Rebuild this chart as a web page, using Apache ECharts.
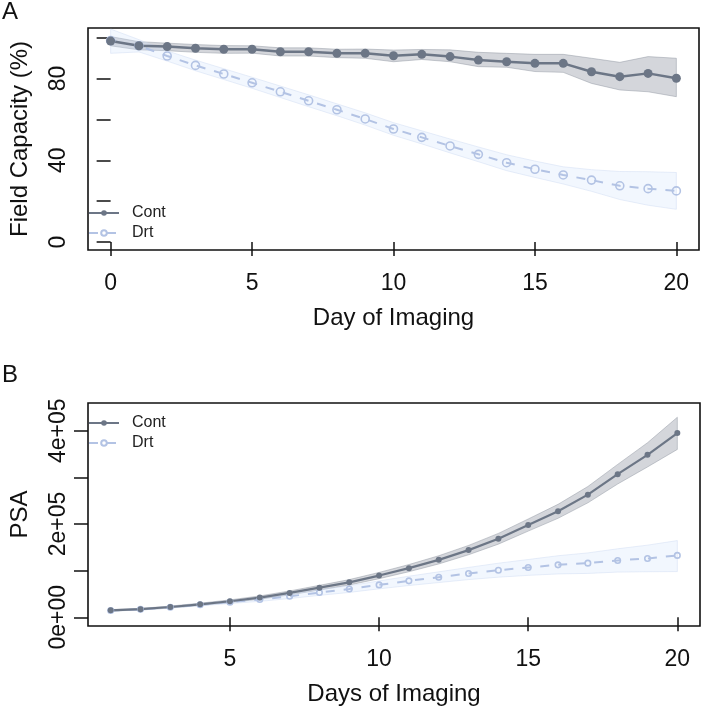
<!DOCTYPE html>
<html>
<head>
<meta charset="utf-8">
<script src="https://cdn.jsdelivr.net/npm/echarts@6/dist/echarts.min.js"></script>
<style>
html,body{margin:0;padding:0;background:#fff;}
#chart{width:703px;height:715px;}
</style>
</head>
<body>
<div id="chart"></div>
<script>
// ---- Panel A: Field capacity (%) ----
var daysA = [0,1,2,3,4,5,6,7,8,9,10,11,12,13,14,15,16,17,18,19,20];
var contFC   = [98.3,96.0,95.6,94.8,94.3,94.3,93.1,93.1,92.3,92.3,91.1,91.8,90.7,89.0,88.2,87.4,87.4,83.3,80.9,82.5,80.1];
var contFCHi = [100.5,98.0,97.3,96.6,96.1,96.0,95.0,95.0,94.3,94.4,93.9,94.2,94.0,92.8,92.3,91.8,91.8,89.9,87.9,90.7,89.9];
var contFCLo = [96.0,94.0,93.6,92.8,92.3,92.4,91.0,91.0,90.2,89.9,88.2,89.3,88.2,85.8,85.5,83.4,83.0,77.6,74.4,73.5,71.1];
var drtFC    = [98.5,96.0,91.0,86.4,82.2,77.9,73.5,69.1,64.7,60.2,55.3,51.2,47.0,42.9,38.8,35.6,32.8,30.3,27.5,26.1,25.0];
var drtFCHi  = [104.2,99.0,93.5,89.0,84.8,80.6,76.3,72.0,67.6,63.2,58.4,54.4,50.4,46.5,42.7,39.6,36.8,35.4,34.5,34.4,34.0];
var drtFCLo  = [92.3,93.0,88.5,83.8,79.5,75.2,70.7,66.2,61.8,57.2,52.2,48.0,43.6,39.3,34.9,31.6,28.4,24.8,20.8,18.0,16.0];

// ---- Panel B: PSA ----
var daysB = [1,2,3,4,5,6,7,8,9,10,11,12,13,14,15,16,17,18,19,20];
var contPSA   = [15000,17300,22000,27800,34400,42300,52300,63500,75000,89500,105400,123200,144100,168400,197800,227300,263000,306900,348400,395000];
var contPSAHi = [16500,19000,24000,30200,37300,45800,56500,68500,80800,96200,113100,132000,154100,179900,210800,242300,280500,327900,374400,429000];
var contPSALo = [13500,15600,20000,25400,31500,38800,48100,58500,69200,82800,97700,114400,134100,156900,184800,212300,245500,285900,322400,360000];
var drtPSA    = [14400,17000,21500,27000,32500,38000,45000,53000,60500,69500,78100,86000,93900,101000,106900,112500,116100,121900,126200,132700];
var drtPSAHi  = [15600,18500,23300,29300,35500,41800,49800,59000,67700,78000,88100,97500,106900,116000,123900,132000,138100,146900,154700,164500];
var drtPSALo  = [13200,15500,19700,24700,29500,34200,40200,47000,53300,61000,68100,74500,80900,86000,89900,93000,94100,96900,97700,98000];

// ---- tick / label values ----
var xTicksA = [0,5,10,15,20];
var yTicksA = [0,20,40,60,80,100];
var yLabelsA = [0,40,80];
var xTicksB = [5,10,15,20];
var yTicksB = [0,100000,200000,300000,400000];
var yLabelsB = [0,200000,400000];
var seriesNames = ['Cont','Drt'];

var contColor = '#6c7686';
var drtColor = '#b3c3e4';
var contBandFill = 'rgba(112,118,135,0.30)';
var contBandLine = 'rgba(140,146,158,0.45)';
var drtBandFill = 'rgba(205,222,250,0.25)';
var drtBandLine = 'rgba(205,218,242,0.45)';
var FONT = 'Liberation Sans, Arial, Helvetica, sans-serif';

function pairs(xs, ys){ return xs.map(function(x,i){ return [x, ys[i]]; }); }

function band(idx, xs, hi, lo, fill, line){
  return {
    type:'custom', xAxisIndex: idx, yAxisIndex: idx, z:1, silent:true, clip:true,
    data: xs.map(function(x,i){ return [x, lo[i], hi[i]]; }),
    encode:{x:0, y:[1,2]},
    renderItem: function(params, api){
      if (params.dataIndex !== 0) return null;
      var pts = [], i;
      for (i = 0; i < xs.length; i++) pts.push(api.coord([xs[i], hi[i]]));
      for (i = xs.length - 1; i >= 0; i--) pts.push(api.coord([xs[i], lo[i]]));
      return {type:'polygon', shape:{points: pts},
        style:{fill: fill, stroke: line, lineWidth: 1}};
    }
  };
}

function contLine(idx, xs, ys, size, width){
  return {type:'line', name:'Cont', xAxisIndex: idx, yAxisIndex: idx, data: pairs(xs, ys),
    symbol:'circle', symbolSize: size, z:3, color: contColor,
    lineStyle:{color: contColor, width: width, type:'solid'},
    itemStyle:{color: contColor}};
}
function drtLine(idx, xs, ys, size, width){
  return {type:'line', name:'Drt', xAxisIndex: idx, yAxisIndex: idx, data: pairs(xs, ys),
    symbol:'circle', symbolSize: size, z:3, color: drtColor,
    lineStyle:{color: drtColor, width: width, type:[9,9]},
    itemStyle:{color:'rgba(255,255,255,0)', borderColor: drtColor, borderWidth:1.6}};
}

var tickStyle = {show:true, inside:false, length:14, lineStyle:{color:'#111', width:1.5}};
var labelStyle = {color:'#111', fontSize:23, fontFamily: FONT};
var nameStyle = {color:'#111', fontSize:24, fontFamily: FONT};

function legend(top){
  return {show:true, orient:'vertical', left:88, top: top, padding:0, itemGap:0,
    itemWidth:30, itemHeight:7, data: seriesNames,
    textStyle:{fontSize:16, fontFamily: FONT, color:'#222', lineHeight:20, padding:[0,0,0,8]}};
}

var series = [
  band(0, daysA, contFCHi, contFCLo, contBandFill, contBandLine),
  band(0, daysA, drtFCHi, drtFCLo, drtBandFill, drtBandLine),
  band(1, daysB, contPSAHi, contPSALo, contBandFill, contBandLine),
  band(1, daysB, drtPSAHi, drtPSALo, drtBandFill, drtBandLine),
  drtLine(0, daysA, drtFC, 8, 2), contLine(0, daysA, contFC, 9, 2.5),
  drtLine(1, daysB, drtPSA, 5.5, 2), contLine(1, daysB, contPSA, 6, 2.2)
];

var option = {
  animation:false,
  backgroundColor:'#fff',
  title:[
    {text:'A', left:2, top:0, padding:0, textStyle:{fontSize:24, fontWeight:'normal', color:'#111', fontFamily: FONT}},
    {text:'B', left:2, top:363, padding:0, textStyle:{fontSize:24, fontWeight:'normal', color:'#111', fontFamily: FONT}}
  ],
  legend:[legend(203), legend(413)],
  grid:[
    {left:85, top:28, width:614, height:222, show:true, borderColor:'#111', borderWidth:1.6, backgroundColor:'transparent'},
    {left:85, top:403, width:615, height:223, show:true, borderColor:'#111', borderWidth:1.6, backgroundColor:'transparent'}
  ],
  xAxis:[
    {type:'value', gridIndex:0, min:-0.8, max:20.8,
     axisLine:{show:false}, splitLine:{show:false},
     axisTick: Object.assign({customValues: xTicksA}, tickStyle),
     axisLabel: Object.assign({customValues: xTicksA, margin:22}, labelStyle),
     name:'Day of Imaging', nameLocation:'middle', nameGap:56, nameTextStyle:nameStyle},
    {type:'value', gridIndex:1, min:0.24, max:20.76,
     axisLine:{show:false}, splitLine:{show:false},
     axisTick: Object.assign({customValues: xTicksB}, tickStyle),
     axisLabel: Object.assign({customValues: xTicksB, margin:22}, labelStyle),
     name:'Days of Imaging', nameLocation:'middle', nameGap:56, nameTextStyle:nameStyle}
  ],
  yAxis:[
    {type:'value', gridIndex:0, min:-3.9, max:104.7,
     axisLine:{show:false}, splitLine:{show:false},
     axisTick: Object.assign({customValues: yTicksA}, tickStyle),
     axisLabel: Object.assign({customValues: yLabelsA, margin:18, rotate:90}, labelStyle),
     name:'Field Capacity (%)', nameLocation:'middle', nameGap:56, nameTextStyle:nameStyle},
    {type:'value', gridIndex:1, min:-18700, max:459600,
     axisLine:{show:false}, splitLine:{show:false},
     axisTick: Object.assign({customValues: yTicksB}, tickStyle),
     axisLabel: Object.assign({customValues: yLabelsB, margin:18, rotate:90,
       formatter:function(v){
         if (v === 0) return '0e+00';
         var e = Math.floor(Math.log10(Math.abs(v)));
         var m = Math.round(v/Math.pow(10,e));
         return m + 'e+' + (e<10?'0':'') + e;
       }}, labelStyle),
     name:'PSA', nameLocation:'middle', nameGap:56, nameTextStyle:nameStyle}
  ],
  series: series
};

var chart = echarts.init(document.getElementById('chart'), null, {renderer:'canvas'});
chart.setOption(option);
</script>
</body>
</html>
